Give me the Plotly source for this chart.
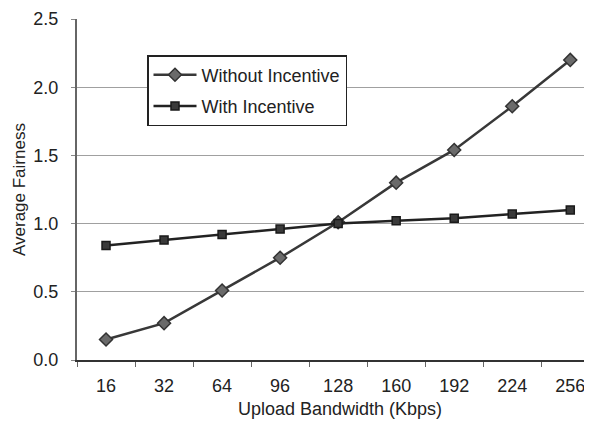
import plotly.graph_objects as go

categories = ["16", "32", "64", "96", "128", "160", "192", "224", "256"]
without_incentive = [0.15, 0.27, 0.51, 0.75, 1.01, 1.30, 1.54, 1.86, 2.20]
with_incentive = [0.84, 0.88, 0.92, 0.96, 1.00, 1.02, 1.04, 1.07, 1.10]
y_ticks = [0.0, 0.5, 1.0, 1.5, 2.0, 2.5]

FONT = "Liberation Sans, Arial, sans-serif"

# page body has an 8px default margin; figure sized to fit the 592x424 window
W, H = 584, 416
L, T, R, B = 69, 11, 2, 64
PW, PH = W - L - R, H - T - B

fig = go.Figure()
fig.add_trace(go.Scatter(
    x=categories, y=without_incentive, name="Without Incentive",
    legendgroup="a",
    mode="lines+markers",
    line=dict(color="#383838", width=2.5),
    marker=dict(symbol="diamond", size=10, color="#6a6a6a",
                line=dict(color="#333333", width=1.5)),
))
fig.add_trace(go.Scatter(
    x=categories, y=with_incentive, name="With Incentive",
    legendgroup="b",
    mode="lines+markers",
    line=dict(color="#222222", width=2.5),
    marker=dict(symbol="square", size=8, color="#3a3a3a",
                line=dict(color="#1a1a1a", width=1.5)),
))

fig.update_layout(
    width=W, height=H,
    margin=dict(l=L, r=R, t=T, b=B),
    paper_bgcolor="white", plot_bgcolor="white",
    font=dict(family=FONT, color="#222222", size=18),
    showlegend=True,
    legend=dict(
        x=(139 - L) / PW, y=1 - (47 - T) / PH, xanchor="left", yanchor="top",
        bgcolor="white", bordercolor="#222222", borderwidth=1.5,
        font=dict(size=18), tracegroupgap=5, itemwidth=43,
    ),
    xaxis=dict(
        type="category", categoryorder="array", categoryarray=categories,
        range=[-0.5, 8.34],
        automargin=False,
        showline=True, linecolor="#333333", linewidth=2,
        ticks="outside", tickson="boundaries", ticklen=5, tickcolor="#666666",
        ticklabelstandoff=8,
        showgrid=False, zeroline=False,
        tickfont=dict(size=18),
    ),
    yaxis=dict(
        range=[0, 2.5], tickvals=y_ticks,
        tickformat=".1f",
        automargin=False,
        showline=True, linecolor="#666666", linewidth=2,
        ticks="outside", ticklen=4, tickcolor="#888888",
        ticklabelstandoff=9,
        showgrid=True, gridcolor="#a0a0a0", gridwidth=1,
        zeroline=False,
        tickfont=dict(size=18),
    ),
    annotations=[
        dict(text="Upload Bandwidth (Kbps)", xref="paper", yref="paper",
             x=(332 - L) / PW, y=-(401 - 352) / PH, xanchor="center", yanchor="middle",
             showarrow=False, font=dict(size=18)),
        dict(text="Average Fairness", xref="paper", yref="paper",
             x=-(L - 11) / PW, y=(352 - 182) / PH, xanchor="center", yanchor="middle",
             textangle=-90, showarrow=False, font=dict(size=17)),
    ],
)

fig.write_html("out.html")
